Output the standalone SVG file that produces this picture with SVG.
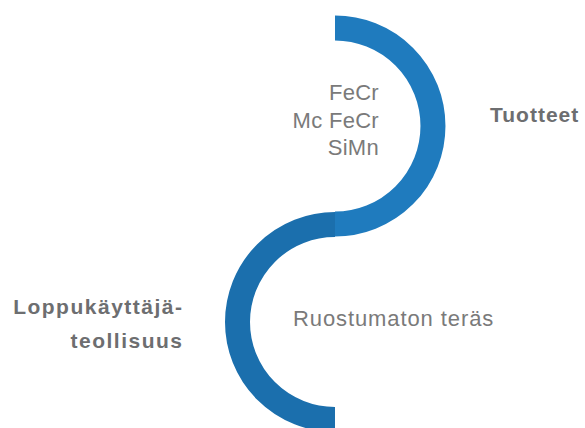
<svg xmlns="http://www.w3.org/2000/svg" width="585" height="428" viewBox="0 0 585 428">
<style>
.arc{fill:none;stroke-width:25;stroke-linecap:butt}
.reg{font-family:"Liberation Sans",Arial,sans-serif;font-size:22px;fill:#7a7a7a;letter-spacing:0.3px}
.bold{font-family:"Liberation Sans",Arial,sans-serif;font-size:21px;font-weight:bold;fill:#6d6e70;letter-spacing:1.5px}
</style>
<rect width="585" height="428" fill="#ffffff"/>
<g id="connectors">
<path id="arc-top" class="arc" stroke="#1f7bbe" d="M335,28 A98,98 0 0 1 335,224"/>
<path id="arc-bottom" class="arc" stroke="#1b6fad" d="M335,224.5 A97.5,97.5 0 0 0 335,419.5"/>
</g>
<g id="node-products">
<text class="reg" x="379" y="100" text-anchor="end">FeCr</text>
<text class="reg" x="379" y="128" text-anchor="end">Mc FeCr</text>
<text class="reg" x="379" y="155" text-anchor="end">SiMn</text>
</g>
<g id="node-tuotteet">
<text class="bold" x="490" y="122" style="letter-spacing:1px">Tuotteet</text>
</g>
<g id="node-steel">
<text class="reg" x="293" y="326" style="letter-spacing:0.9px">Ruostumaton teräs</text>
</g>
<g id="node-enduser">
<text class="bold" x="183.5" y="314" text-anchor="end">Loppukäyttäjä-</text>
<text class="bold" x="183.5" y="348" text-anchor="end">teollisuus</text>
</g>
</svg>
